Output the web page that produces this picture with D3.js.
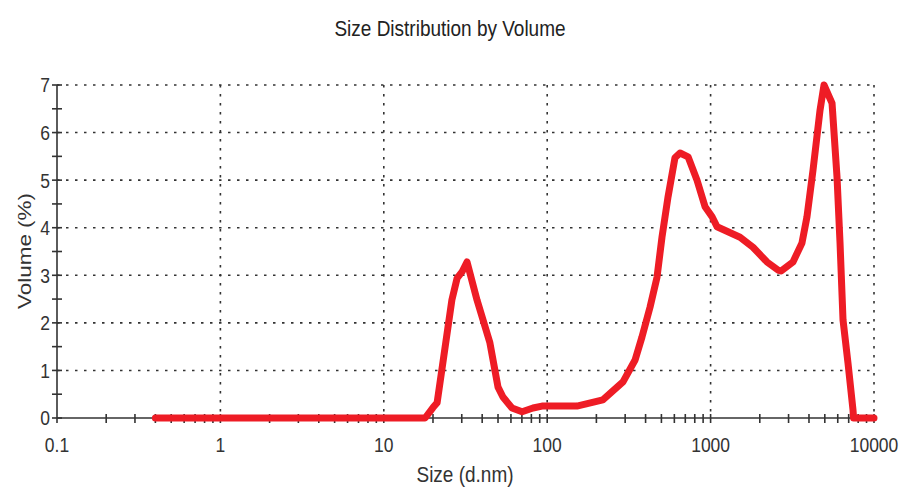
<!DOCTYPE html>
<html>
<head>
<meta charset="utf-8">
<script src="https://cdn.jsdelivr.net/npm/d3@7"></script>
<style>
  html, body { margin: 0; padding: 0; background: #fff; }
  svg { display: block; font-family: "Liberation Sans", Arial, sans-serif; }
</style>
</head>
<body>
<svg id="chart" width="901" height="487"></svg>
<script>
// ---- data ----
const sizes = [0.4, 1, 10, 17.9, 20.0, 21.2, 26.1, 28.1, 30.1, 32.3, 37.2, 44.6, 50.0, 53.6, 60.9, 70.2, 81.9, 92.9, 152, 219, 291, 345, 380, 426, 470, 504, 549, 605, 650, 728, 826, 925, 1021, 1095, 1514, 1817, 2213, 2584, 2700, 3193, 3625, 3889, 4234, 4674, 4943, 5535, 5937, 6196, 6463, 6930, 7438, 7500, 10000];
const volumes = [0, 0, 0, 0, 0.22, 0.32, 2.48, 2.94, 3.07, 3.28, 2.48, 1.58, 0.65, 0.44, 0.21, 0.13, 0.21, 0.25, 0.25, 0.38, 0.76, 1.22, 1.70, 2.33, 2.96, 3.80, 4.65, 5.47, 5.57, 5.49, 5.0, 4.44, 4.23, 4.02, 3.80, 3.59, 3.28, 3.11, 3.09, 3.28, 3.68, 4.23, 5.21, 6.47, 7.0, 6.62, 5.07, 3.68, 2.06, 1.16, 0.17, 0, 0];
const xMajorTicks = [0.1, 1, 10, 100, 1000, 10000];
const xTickLabels = ["0.1", "1", "10", "100", "1000", "10000"];
const yMajorTicks = [0, 1, 2, 3, 4, 5, 6, 7];
const yTickLabels = ["0", "1", "2", "3", "4", "5", "6", "7"];
const titleText = "Size Distribution by Volume";
const xLabelText = "Size (d.nm)";
const yLabelText = "Volume (%)";

// ---- layout ----
const svg = d3.select("#chart");
const x = d3.scaleLog().domain([0.1, 10000]).range([57, 874]);
const y = d3.scaleLinear().domain([0, 7]).range([418, 85]);
const axisColor = "#333";
const SY = 1.18; // vertical text stretch seen in reference

// minor ticks
const xMinor = [];
for (let e = -1; e < 4; e++) for (let k = 2; k <= 9; k++) xMinor.push(k * Math.pow(10, e));
const yMinor = d3.range(0.5, 7, 1);

// grid (dotted)
const grid = svg.append("g").attr("stroke", axisColor).attr("stroke-width", 1.6).attr("stroke-dasharray", "2.5,6.5");
grid.selectAll("line.h").data(yMajorTicks.filter(d => d > 0)).join("line")
  .attr("x1", x(0.1)).attr("x2", x(10000))
  .attr("y1", d => y(d)).attr("y2", d => y(d));
grid.selectAll("line.v").data(xMajorTicks.filter(d => d > 0.1)).join("line")
  .attr("x1", d => x(d)).attr("x2", d => x(d))
  .attr("y1", y(7)).attr("y2", y(0));

// axes
const ax = svg.append("g").attr("stroke", axisColor).attr("stroke-width", 1.6);
ax.append("line").attr("x1", x(0.1)).attr("x2", x(10000)).attr("y1", y(0)).attr("y2", y(0));
ax.append("line").attr("x1", x(0.1)).attr("x2", x(0.1)).attr("y1", y(7)).attr("y2", y(0) + 5);
ax.selectAll("line.xt").data(xMinor.concat(xMajorTicks.slice(1))).join("line")
  .attr("x1", d => x(d)).attr("x2", d => x(d))
  .attr("y1", y(0) - 4).attr("y2", y(0) + 5);
ax.selectAll("line.yt").data(yMinor.concat(yMajorTicks)).join("line")
  .attr("x1", x(0.1) - 5).attr("x2", x(0.1) + 5)
  .attr("y1", d => y(d)).attr("y2", d => y(d));

// series line
const data = sizes.map((s, i) => [s, volumes[i]]);
svg.append("path")
  .datum(data)
  .attr("fill", "none")
  .attr("stroke", "#ee1c25")
  .attr("stroke-width", 7)
  .attr("stroke-linejoin", "round")
  .attr("stroke-linecap", "round")
  .attr("d", d3.line().x(d => x(d[0])).y(d => y(d[1])));

// tick labels
const txt = svg.append("g").attr("fill", "#333");
txt.selectAll("text.xl").data(xMajorTicks).join("text")
  .attr("text-anchor", "middle")
  .attr("font-size", 17.5)
  .attr("transform", d => `translate(${x(d)},452) scale(1,${SY})`)
  .text((d, i) => xTickLabels[i]);
txt.selectAll("text.yl").data(yMajorTicks).join("text")
  .attr("text-anchor", "end")
  .attr("font-size", 17.5)
  .attr("dy", "0.36em")
  .attr("transform", d => `translate(50,${y(d)}) scale(1,${SY})`)
  .text((d, i) => yTickLabels[i]);

// title and axis labels
svg.append("text").attr("text-anchor", "middle").attr("font-size", 19).attr("fill", "#222")
  .attr("transform", `translate(450,36) scale(1,${SY})`).text(titleText);
svg.append("text").attr("text-anchor", "middle").attr("font-size", 19).attr("fill", "#333")
  .attr("transform", `translate(465,482) scale(1,${SY})`).text(xLabelText);
svg.append("text").attr("text-anchor", "middle").attr("font-size", 19).attr("fill", "#333")
  .attr("transform", `translate(31,251) scale(1,${SY}) rotate(-90)`).text(yLabelText);
</script>
</body>
</html>
